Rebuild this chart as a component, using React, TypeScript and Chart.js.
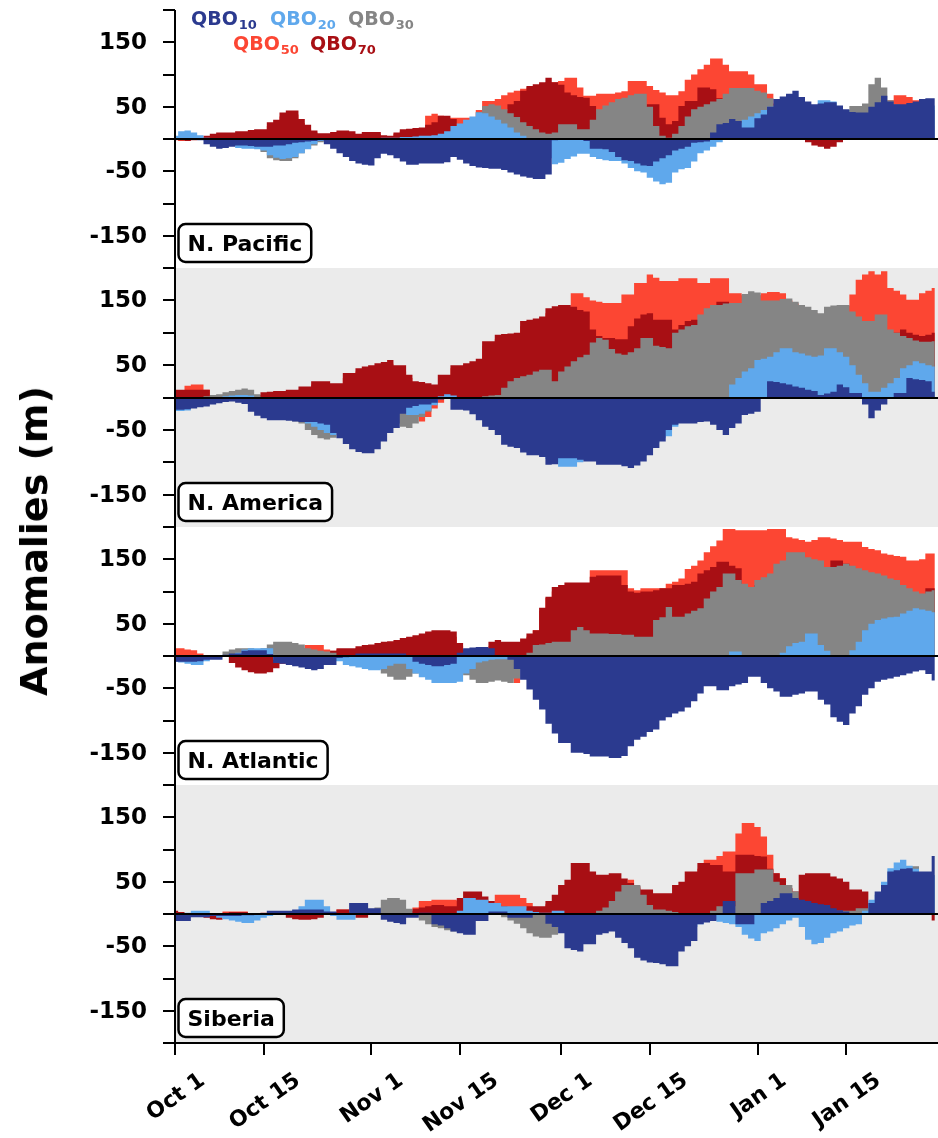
import React, { useEffect, useRef } from 'react';
import { Chart, registerables } from 'chart.js';

Chart.register(...registerables);

// Daily 500 hPa geopotential height anomalies (m), day 0 = Oct 1.
const pacific10 = [
  0, 0, 0, 0, -2, -8, -12, -15, -14, -12,
  -10, -10, -11, -12, -12, -12, -10, -10, -8, -6,
  -5, -4, -3, -2, -8, -15, -22, -28, -34, -38,
  -40, -41, -30, -23, -25, -30, -35, -40, -40, -38,
  -38, -38, -38, -36, -28, -32, -38, -42, -44, -45,
  -46, -46, -48, -52, -55, -58, -60, -62, -62, -55,
  -2, 0, 0, 0, 0, -3, -15, -15, -16, -20,
  -28, -33, -34, -38, -41, -42, -35, -30, -25, -18,
  -15, -12, -6, -5, -4, 10, 23, 25, 31, 28,
  18, 18, 32, 38, 50, 62, 66, 70, 75, 65,
  58, 54, 55, 57, 57, 52, 46, 42, 41, 41,
  50, 57, 67, 58, 54, 54, 56, 58, 62, 63,
  63,
];
const pacific20 = [
  5, 12, 13, 10, 6, 2, -3, -6, -8, -10,
  -14, -15, -15, -16, -18, -25, -29, -31, -30, -28,
  -22, -16, -8, -3, 0, 0, 1, 0, 0, 0,
  0, 0, 1, 2, 2, 2, 3, 3, 4, 5,
  5, 6, 8, 12, 20, 24, 30, 35, 41, 40,
  35, 30, 24, 18, 10, 5, 0, -10, -20, -30,
  -39, -37, -31, -27, -23, -23, -28, -31, -33, -34,
  -34, -38, -45, -50, -52, -60, -66, -70, -68, -52,
  -47, -45, -35, -22, -18, -12, -5, 10, 20, 25,
  30, 35, 40, 45, 50, 52, 50, 48, 45, 45,
  48, 52, 60, 60, 58, 50, 45, 40, 38, 38,
  40, 45, 48, 50, 52, 52, 52, 52, 52, 52,
  52,
];
const pacific30 = [
  0, 0, 0, 0, 0, -2, -4, -6, -8, -10,
  -8, -10, -12, -14, -20, -30, -33, -34, -34, -30,
  -22, -15, -10, -5, -2, 0, 0, 0, 0, 0,
  0, 0, 0, 0, 0, 0, 0, 0, 0, 0,
  2, 3, 4, 6, 10, 15, 22, 30, 42, 51,
  54, 52, 46, 40, 34, 26, 20, 15, 10, 8,
  10, 23, 23, 23, 15, 15, 30, 46, 52, 57,
  62, 64, 68, 70, 70, 50, 20, 5, 2, 8,
  20, 35, 46, 50, 54, 58, 62, 70, 79, 79,
  79, 79, 75, 72, 63, 50, 45, 40, 35, 30,
  25, 20, 20, 25, 30, 40, 45, 51, 51, 55,
  85, 95, 80, 60, 54, 48, 45, 42, 42, 42,
  45,
];
const pacific70 = [
  0, -2, -3, -2, 0, 5, 8, 10, 10, 10,
  12, 12, 14, 15, 15, 26, 30, 41, 44, 44,
  31, 22, 13, 9, 9, 11, 13, 13, 12, 8,
  11, 11, 11, 6, 5, 10, 15, 16, 17, 18,
  22, 26, 36, 36, 31, 20, 20, 20, 25, 30,
  35, 42, 44, 54, 59, 75, 82, 85, 88, 95,
  88, 84, 72, 68, 65, 64, 51, 45, 40, 38,
  35, 35, 40, 45, 50, 54, 54, 33, 23, 28,
  51, 59, 59, 80, 80, 77, 63, 50, 40, 30,
  20, 10, 5, 0, 0, 0, 0, 0, 0, 0,
  -5, -10, -12, -15, -12, -5, 0, 0, 0, 0,
  0, 5, 10, 15, 20, 20, 20, 20, 20, 20,
  20,
];
const pacific50 = [
  -2, -3, -2, 0, 2, 3, 5, 6, 6, 6,
  8, 8, 10, 10, 10, 20, 25, 35, 38, 38,
  25, 15, 10, 6, 6, 8, 9, 9, 8, 6,
  8, 8, 8, 4, 3, 8, 12, 13, 14, 15,
  36, 39, 36, 33, 33, 33, 33, 33, 45, 59,
  59, 62, 68, 72, 75, 78, 80, 82, 85, 88,
  88, 90, 95, 95, 80, 67, 67, 70, 70, 70,
  72, 74, 90, 90, 90, 82, 76, 72, 68, 68,
  74, 92, 100, 108, 115, 125, 125, 115, 105, 105,
  105, 100, 85, 85, 70, 55, 40, 25, 15, 10,
  5, 0, 0, 0, 0, 0, 0, 0, 0, 5,
  15, 25, 35, 60, 68, 68, 65, 60, 55, 50,
  45,
];

const america10 = [
  -19, -19, -18, -17, -15, -14, -11, -9, -7, -6,
  -8, -10, -22, -28, -32, -35, -35, -35, -36, -37,
  -38, -38, -38, -40, -42, -55, -63, -72, -80, -84,
  -86, -86, -80, -68, -55, -47, -25, -16, -13, -11,
  -11, -8, -3, 0, -19, -19, -20, -26, -35, -45,
  -50, -58, -73, -76, -78, -85, -89, -89, -92, -104,
  -103, -94, -94, -94, -96, -99, -99, -104, -104, -104,
  -104, -106, -109, -105, -99, -89, -78, -68, -50, -42,
  -40, -40, -40, -38, -37, -42, -50, -58, -47, -40,
  -27, -25, -22, 0, 25, 24, 22, 20, 17, 15,
  12, 10, 4, 6, 9, 20, 16, 7, 7, -11,
  -32, -20, -11, 0, 7, 7, 30, 28, 27, 25,
  9,
];
const america20 = [
  -21, -21, -20, -10, -5, -2, 0, 0, 2, 3,
  4, 4, 3, 0, -5, -10, -15, -20, -25, -28,
  -30, -40, -45, -50, -55, -58, -50, -40, -30, -20,
  -15, -12, -10, -10, -12, -15, -20, -27, -27, -25,
  -20, -12, 2, 5, 3, 0, -5, -10, -20, -30,
  -40, -50, -60, -70, -75, -80, -85, -88, -90, -95,
  -100, -107, -107, -107, -100, -95, -92, -95, -98, -100,
  -100, -100, -100, -98, -90, -80, -70, -62, -60, -45,
  -35, -30, -25, -20, -15, -10, -5, 0, 20, 30,
  40, 45, 58, 60, 63, 70, 76, 76, 70, 68,
  65, 63, 65, 76, 76, 70, 63, 50, 35, 22,
  9, 9, 15, 22, 30, 45, 50, 56, 53, 50,
  48,
];
const america30 = [
  0, 0, 0, 0, 0, 2, 4, 5, 8, 10,
  12, 14, 12, 5, 0, 0, -5, -15, -25, -37,
  -40, -50, -58, -63, -65, -62, -50, -40, -30, -20,
  -15, -12, -10, -15, -25, -40, -45, -47, -40, -30,
  -22, -10, -2, 0, 0, 0, 0, 0, 0, 2,
  3, 4, 15, 25, 30, 33, 35, 40, 43, 43,
  25, 40, 48, 56, 62, 66, 85, 92, 89, 75,
  68, 66, 70, 76, 92, 92, 80, 78, 76, 100,
  105, 110, 112, 128, 138, 143, 143, 145, 146, 146,
  160, 164, 162, 150, 150, 150, 152, 153, 148, 143,
  140, 135, 130, 140, 142, 143, 143, 133, 125, 118,
  118, 128, 128, 105, 100, 95, 92, 88, 86, 86,
  87,
];
const america70 = [
  12, 12, 12, 12, 12, 12, 4, 4, 4, 4,
  4, 4, 4, 4, 8, 9, 10, 10, 12, 12,
  17, 17, 25, 25, 25, 22, 22, 38, 38, 45,
  48, 50, 53, 55, 58, 50, 50, 35, 25, 24,
  22, 20, 35, 35, 50, 50, 53, 56, 60, 87,
  87, 97, 98, 99, 100, 118, 120, 122, 125, 138,
  141, 143, 143, 140, 135, 133, 105, 95, 92, 92,
  90, 90, 110, 122, 128, 130, 120, 120, 120, 105,
  112, 118, 120, 120, 122, 125, 148, 148, 140, 135,
  130, 125, 120, 115, 110, 110, 110, 110, 110, 110,
  110, 110, 110, 110, 110, 110, 110, 110, 110, 105,
  105, 100, 100, 100, 100, 105, 100, 97, 95, 97,
  100,
];
const america50 = [
  8, 10, 18, 20, 20, 12, 0, 2, 2, 2,
  2, 2, 2, 2, 5, 6, 8, 8, 10, 10,
  12, 12, 20, 20, 20, 18, 18, 30, 30, 40,
  42, 45, 48, 50, 52, 45, 40, 30, 20, -37,
  -30, -17, -8, 30, 45, 45, 50, 52, 55, 80,
  85, 90, 95, 95, 95, 110, 115, 118, 120, 130,
  135, 140, 140, 161, 161, 155, 150, 148, 146, 146,
  146, 159, 159, 177, 177, 190, 185, 180, 180, 180,
  184, 184, 184, 177, 177, 184, 184, 184, 161, 161,
  158, 158, 158, 161, 163, 163, 161, 150, 145, 140,
  135, 130, 128, 135, 138, 140, 142, 159, 182, 190,
  195, 190, 195, 169, 165, 159, 151, 151, 161, 165,
  169,
];

const atlantic10 = [
  -9, -9, -9, -9, -8, -6, -6, -6, 2, 4,
  4, 8, 9, 9, 9, 3, -11, -12, -14, -16,
  -18, -20, -22, -20, -14, -14, -3, -2, -1, 4,
  4, 4, 4, 4, 4, 4, 4, 0, -9, -12,
  -14, -16, -16, -14, -12, 5, 12, 13, 14, 14,
  12, 0, 0, -6, -20, -37, -52, -68, -83, -105,
  -120, -135, -135, -150, -150, -152, -156, -156, -156, -158,
  -158, -155, -140, -130, -125, -118, -114, -100, -95, -89,
  -86, -80, -70, -58, -47, -47, -53, -53, -47, -44,
  -42, -32, -32, -42, -50, -55, -63, -63, -60, -58,
  -55, -55, -68, -75, -95, -102, -107, -89, -78, -60,
  -50, -40, -37, -35, -32, -30, -27, -24, -22, -28,
  -38,
];
const atlantic20 = [
  -9, -10, -12, -14, -14, -8, -4, -2, 0, 2,
  5, 10, 12, 12, 12, 12, -6, -8, -10, -12,
  -14, -16, -14, -12, -10, -8, -8, -14, -16, -18,
  -20, -22, -22, -20, -15, -12, -12, -20, -27, -33,
  -37, -42, -42, -42, -42, -40, -27, -20, -10, -8,
  -6, -5, -5, -5, -5, -5, -5, -5, -3, 0,
  -5, -8, -10, -12, -15, -18, -20, -20, -20, -20,
  -20, -20, -20, -18, -15, -12, -10, -8, -5, -3,
  0, 0, 0, 0, 0, 0, 0, 0, 7, 7,
  0, 0, 0, 0, 0, 0, 5, 15, 20, 22,
  35, 35, 17, 8, 0, 0, 0, 9, 22, 40,
  50, 56, 58, 60, 61, 66, 70, 74, 72, 70,
  68,
];
const atlantic30 = [
  0, 0, 0, 0, 0, 0, 0, 0, 7, 10,
  12, 12, 12, 10, 12, 18, 22, 22, 22, 20,
  18, 12, 10, 8, 7, 5, 0, 0, 0, 0,
  0, 0, -5, -27, -32, -37, -37, -32, -27, -20,
  -15, -10, -10, -10, -10, -15, -30, -37, -42, -42,
  -40, -38, -40, -42, -35, 0, 5, 17, 18, 20,
  22, 22, 22, 40, 45, 40, 35, 35, 35, 34,
  34, 33, 33, 30, 30, 30, 56, 60, 76, 61,
  61, 66, 70, 74, 89, 100, 107, 128, 128, 118,
  112, 107, 118, 122, 128, 143, 148, 161, 161, 161,
  153, 150, 148, 138, 138, 140, 143, 140, 136, 133,
  130, 128, 125, 120, 118, 110, 105, 100, 97, 100,
  102,
];
const atlantic70 = [
  0, 0, 0, 0, 0, 0, 0, 0, 0, -11,
  -18, -22, -25, -27, -27, -25, -19, -12, -5, 0,
  2, 3, 4, 5, 6, 8, 12, 12, 12, 15,
  17, 18, 20, 22, 23, 25, 28, 30, 32, 35,
  38, 40, 40, 40, 38, 20, 10, 10, 10, 10,
  22, 25, 22, 22, 22, 27, 35, 40, 75, 92,
  107, 110, 114, 114, 114, 114, 123, 125, 125, 125,
  125, 110, 100, 98, 100, 100, 102, 105, 105, 110,
  110, 112, 115, 128, 133, 138, 146, 146, 140, 136,
  105, 100, 110, 110, 110, 110, 110, 110, 110, 110,
  120, 130, 135, 138, 148, 148, 143, 130, 125, 120,
  115, 110, 105, 100, 97, 95, 95, 95, 95, 105,
  105,
];
const atlantic50 = [
  12, 12, 10, 9, 4, 0, 0, 0, 0, 0,
  0, 0, 2, 2, 2, 2, 2, 4, 6, 8,
  12, 17, 17, 17, 10, 8, 10, 10, 10, 12,
  14, 15, 16, 18, 20, 20, 25, 28, 30, 32,
  35, 35, 35, 35, 30, 15, 8, 8, 8, 8,
  15, 18, 18, 18, -42, 20, 30, 40, 70, 90,
  100, 105, 110, 110, 110, 112, 133, 133, 133, 133,
  133, 133, 105, 102, 105, 105, 105, 105, 112, 115,
  120, 135, 140, 148, 161, 170, 179, 197, 197, 195,
  195, 195, 195, 195, 197, 197, 197, 184, 182, 180,
  177, 180, 184, 184, 182, 180, 177, 177, 177, 169,
  166, 164, 159, 157, 155, 154, 148, 148, 150, 159,
  159,
];

const siberia10 = [
  -11, -11, -11, -5, -5, -5, -3, -3, -3, -3,
  -3, -2, -2, -1, 0, 5, 5, 5, 5, 7,
  7, 7, 7, 7, 4, 4, 0, 0, 17, 17,
  17, 9, 9, -9, -12, -14, -16, -6, -6, 2,
  2, -16, -18, -22, -27, -30, -32, -32, -11, -11,
  4, 4, 4, -6, -6, -6, -6, 0, 0, -15,
  -20, -30, -53, -56, -58, -47, -47, -32, -30, -27,
  -37, -45, -53, -68, -72, -75, -76, -78, -81, -81,
  -58, -50, -42, -16, -13, -11, 0, 20, 20, -16,
  -16, -16, 0, 17, 20, 25, 32, 32, 25, 22,
  20, 17, 15, 14, 9, 6, 4, 0, 0, 0,
  17, 35, 45, 66, 68, 70, 71, 66, 66, 66,
  90,
];
const siberia20 = [
  0, 0, 2, 5, 5, 5, 0, -6, -8, -10,
  -12, -14, -14, -10, -6, -3, 0, 0, 2, 5,
  12, 22, 22, 22, 12, -3, -9, -9, -9, 0,
  0, 0, 0, 0, 0, 0, 0, 0, 0, 0,
  0, 0, 0, 0, 0, 5, 25, 25, 22, 22,
  17, 17, 12, 12, 12, 12, 5, 3, 2, 2,
  5, 5, -20, -30, -35, -35, -30, -25, -20, -20,
  -25, -30, -40, -50, -55, -60, -62, -62, -55, -45,
  -35, -25, -20, -16, -12, -9, -12, -14, -16, -20,
  -32, -38, -42, -30, -27, -22, -16, -10, -6, -20,
  -40, -47, -45, -37, -30, -27, -22, -18, -16, 5,
  22, 30, 50, 71, 80, 84, 75, 70, 65, 60,
  60,
];
const siberia30 = [
  0, 0, 0, 0, 0, 0, 0, 0, 0, 0,
  0, 0, 0, 0, 0, 0, 0, 0, 0, 0,
  0, 0, 0, 0, 0, 0, 0, 0, 0, 0,
  0, 0, 10, 22, 25, 25, 22, 8, 0, -10,
  -16, -20, -22, -25, -27, -15, -5, 0, 0, 0,
  0, 0, -5, -10, -15, -22, -30, -35, -37, -37,
  -32, -20, -10, -5, 0, 0, 0, 5, 10, 20,
  35, 45, 45, 45, 30, 14, 7, 7, 5, 3,
  0, 0, 0, 0, 0, 5, 12, 12, 12, 63,
  63, 63, 69, 69, 69, 50, 45, 45, 35, 20,
  10, 5, 5, 5, 5, 5, 5, 5, 9, 9,
  10, 20, 30, 40, 50, 60, 74, 74, 60, 60,
  60,
];
const siberia70 = [
  5, 3, 0, 0, -2, -6, -8, -9, 2, 3,
  3, 3, 0, 0, 2, 2, 2, 0, -6, -8,
  -9, -9, -8, -6, 0, 3, 7, 7, 2, -6,
  -6, 0, 0, 0, 0, 0, 3, 5, 8, 10,
  12, 14, 14, 12, 12, 25, 35, 35, 35, 27,
  20, 15, 12, 10, 8, 8, 12, 12, 12, 20,
  30, 45, 53, 79, 79, 79, 66, 61, 61, 63,
  63, 55, 48, 43, 38, 38, 32, 32, 32, 45,
  50, 66, 66, 79, 79, 76, 76, 66, 66, 92,
  92, 92, 90, 89, 70, 63, 55, 40, 35, 61,
  63, 63, 63, 63, 58, 55, 50, 38, 38, 35,
  5, 0, 0, 0, 0, 0, 0, 0, 0, 0,
  -10,
];
const siberia50 = [
  3, 2, 0, 0, 0, 0, 0, 0, 4, 4,
  4, 4, 0, 0, 0, 0, 0, 0, 0, 0,
  0, 0, 0, 0, 0, 3, 7, 7, 3, 0,
  0, 0, 0, 0, 0, 0, 0, 5, 10, 20,
  20, 22, 22, 22, 22, 20, 18, 15, 12, 10,
  15, 30, 30, 30, 30, 25, 17, 10, 10, 15,
  20, 30, 40, 50, 50, 50, 50, 40, 40, 40,
  40, 45, 53, 40, 30, 30, 25, 25, 25, 30,
  40, 50, 60, 70, 84, 84, 90, 97, 97, 125,
  141, 141, 135, 120, 92, 63, 56, 40, 30, 20,
  20, 20, 20, 20, 20, 20, 20, 20, 20, 20,
  10, 5, 0, 0, 0, 0, 0, 0, 0, 0,
  0,
];

// Axis definitions
const tickDays = [0, 14, 31, 45, 61, 75, 92, 106];
const tickLabels = ['Oct 1', 'Oct 15', 'Nov 1', 'Nov 15', 'Dec 1', 'Dec 15', 'Jan 1', 'Jan 15'];
const yTickValues = [200, 150, 100, 50, 0, -50, -100, -150, -200];
const yLabelValues = [150, 50, -50, -150];

// Series: drawn front (first) to back (last)
const seriesSubs = ['10', '20', '30', '70', '50'];
const seriesColors = ['#2b3a8f', '#5fa8ec', '#858585', '#a80f14', '#fc4633'];

const regionNames = ['N. Pacific', 'N. America', 'N. Atlantic', 'Siberia'];
const regionShaded = [false, true, false, true];
const regionSeries = [
  [pacific10, pacific20, pacific30, pacific70, pacific50],
  [america10, america20, america30, america70, america50],
  [atlantic10, atlantic20, atlantic30, atlantic70, atlantic50],
  [siberia10, siberia20, siberia30, siberia70, siberia50],
];

const FONT = '"DejaVu Sans", "Liberation Sans", sans-serif';
const WIDTH = 938;
const PLOT_LEFT = 175;
const PANEL_TOP = [10, 268, 527, 785];
const PANEL_H = [258, 259, 258, 258];
const PAD = 10;
const AXIS_SPACE = 95;
const X_MAX = 120.5;

const legendEntries = [
  { sub: '10', color: '#2b3a8f', x: 191, row: 0 },
  { sub: '20', color: '#5fa8ec', x: 270, row: 0 },
  { sub: '30', color: '#858585', x: 348, row: 0 },
  { sub: '50', color: '#fc4633', x: 233, row: 1 },
  { sub: '70', color: '#a80f14', x: 310, row: 1 },
];

function makeDecor(index: number, isLast: boolean) {
  return {
    id: 'panelDecor',
    beforeDraw(chart: any) {
      if (!regionShaded[index]) return;
      const { ctx, chartArea: a } = chart;
      ctx.save();
      ctx.fillStyle = '#ebebeb';
      ctx.fillRect(a.left, a.top, a.right - a.left, a.bottom - a.top);
      ctx.restore();
    },
    afterDatasetsDraw(chart: any) {
      const { ctx, chartArea: a } = chart;
      const y0 = Math.round(chart.scales.y.getPixelForValue(0));
      ctx.save();
      ctx.strokeStyle = '#000';
      ctx.lineWidth = 2;
      ctx.beginPath();
      ctx.moveTo(a.left, y0);
      ctx.lineTo(a.right, y0);
      ctx.stroke();
      ctx.restore();
    },
    afterDraw(chart: any) {
      const { ctx, chartArea: a } = chart;
      const ys = chart.scales.y;
      ctx.save();
      ctx.strokeStyle = '#000';
      ctx.fillStyle = '#000';
      ctx.lineWidth = 2;

      // left spine
      ctx.beginPath();
      ctx.moveTo(a.left, a.top);
      ctx.lineTo(a.left, a.bottom);
      ctx.stroke();

      // y ticks and labels
      ctx.font = `bold 23px ${FONT}`;
      ctx.textAlign = 'right';
      ctx.textBaseline = 'middle';
      yTickValues.forEach((v) => {
        const y = Math.round(ys.getPixelForValue(v));
        ctx.beginPath();
        ctx.moveTo(a.left - 12, y);
        ctx.lineTo(a.left, y);
        ctx.stroke();
        if (yLabelValues.includes(v)) {
          ctx.fillText(String(v), a.left - 28, y + 1);
        }
      });

      // region label box
      ctx.font = `bold 22px ${FONT}`;
      const name = regionNames[index];
      const tw = ctx.measureText(name).width;
      const bx = a.left + 3.5;
      const bh = 38;
      const by = a.bottom - 6 - bh;
      ctx.beginPath();
      (ctx as any).roundRect(bx, by, tw + 18, bh, 7);
      ctx.fillStyle = '#fff';
      ctx.fill();
      ctx.lineWidth = 2.5;
      ctx.stroke();
      ctx.fillStyle = '#000';
      ctx.textAlign = 'left';
      ctx.textBaseline = 'alphabetic';
      ctx.fillText(name, bx + 9, by + 27);

      // legend (top panel only)
      if (index === 0) {
        legendEntries.forEach((e) => {
          const y = a.top + (e.row === 0 ? 15 : 40);
          ctx.fillStyle = e.color;
          ctx.font = `bold 19px ${FONT}`;
          ctx.fillText('QBO', e.x, y);
          const w = ctx.measureText('QBO').width;
          ctx.font = `bold 13px ${FONT}`;
          ctx.fillText(e.sub, e.x + w + 1, y + 4);
        });
      }

      // bottom axis
      if (isLast) {
        const xs = chart.scales.x;
        const yb = a.bottom;
        ctx.strokeStyle = '#000';
        ctx.lineWidth = 2;
        ctx.beginPath();
        ctx.moveTo(a.left, yb);
        ctx.lineTo(a.right, yb);
        ctx.stroke();
        const ang = (35 * Math.PI) / 180;
        ctx.font = `bold 22px ${FONT}`;
        ctx.fillStyle = '#000';
        ctx.textAlign = 'center';
        ctx.textBaseline = 'middle';
        tickDays.forEach((d, i) => {
          const x = Math.round(xs.getPixelForValue(d));
          ctx.beginPath();
          ctx.moveTo(x, yb);
          ctx.lineTo(x, yb + 12);
          ctx.stroke();
          const w = ctx.measureText(tickLabels[i]).width;
          const h = 16;
          const boxH = w * Math.sin(ang) + h * Math.cos(ang);
          const cy = yb + 29 + boxH / 2;
          ctx.save();
          ctx.translate(x + 1, cy);
          ctx.rotate(-ang);
          ctx.fillText(tickLabels[i], 0, 0);
          ctx.restore();
        });
      }
      ctx.restore();
    },
  };
}

function Panel({ index }: { index: number }) {
  const ref = useRef<HTMLCanvasElement | null>(null);
  const isLast = index === regionNames.length - 1;
  const height = PANEL_H[index] + 2 * PAD + (isLast ? AXIS_SPACE - PAD : 0);

  useEffect(() => {
    if (!ref.current) return;
    const arrays = regionSeries[index];
    const chart = new Chart(ref.current, {
      type: 'line',
      data: {
        datasets: arrays.map((arr, k) => ({
          label: 'QBO' + seriesSubs[k],
          data: arr.map((v, d) => ({ x: d, y: v })),
          backgroundColor: seriesColors[k],
          borderColor: 'rgba(0,0,0,0)',
          borderWidth: 0,
          pointRadius: 0,
          stepped: 'middle',
          fill: 'origin',
          order: k,
        })),
      },
      options: {
        animation: false,
        responsive: false,
        maintainAspectRatio: false,
        events: [],
        layout: {
          padding: {
            left: PLOT_LEFT,
            right: 0,
            top: PAD,
            bottom: isLast ? AXIS_SPACE : PAD,
          },
        },
        plugins: {
          legend: { display: false },
          tooltip: { enabled: false },
        },
        scales: {
          x: { type: 'linear', min: 0, max: X_MAX, display: false },
          y: { type: 'linear', min: -200, max: 200, display: false },
        },
      } as any,
      plugins: [makeDecor(index, isLast)],
    });
    return () => chart.destroy();
  }, [index]);

  return (
    <canvas
      ref={ref}
      width={WIDTH}
      height={height}
      style={{
        position: 'absolute',
        left: 0,
        top: PANEL_TOP[index] - PAD,
        width: WIDTH,
        height,
      }}
    />
  );
}

export default function App() {
  return (
    <div
      style={{
        position: 'absolute',
        left: 0,
        top: 0,
        width: WIDTH,
        height: 1138,
        background: '#fff',
        overflow: 'hidden',
      }}
    >
      {regionNames.map((_, i) => (
        <Panel key={i} index={i} />
      ))}
      <div
        style={{
          position: 'absolute',
          left: 34,
          top: 541,
          transform: 'translate(-50%, -50%) rotate(-90deg)',
          font: `bold 38px ${FONT}`,
          whiteSpace: 'nowrap',
          color: '#000',
        }}
      >
        Anomalies (m)
      </div>
    </div>
  );
}
